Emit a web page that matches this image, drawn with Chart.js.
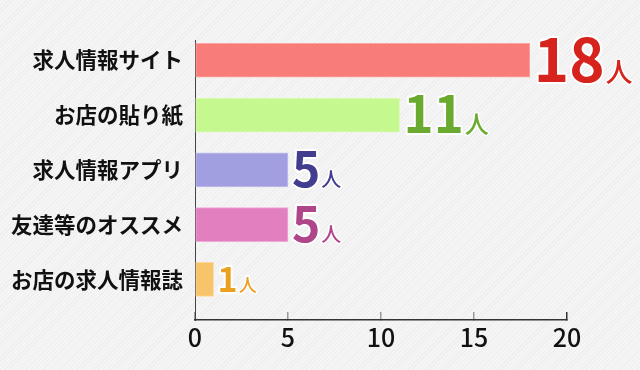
<!DOCTYPE html>
<html lang="ja">
<head>
<meta charset="utf-8">
<script src="https://cdn.jsdelivr.net/npm/chart.js@4/dist/chart.umd.min.js"></script>
<style>
  html, body { margin: 0; padding: 0; }
  body {
    width: 640px;
    height: 370px;
    background: repeating-linear-gradient(-45deg, #f5f5f5 0 2px, #eeeeee 2px 3px);
  }
</style>
</head>
<body>
<canvas id="surveyChart" width="640" height="370"></canvas>
<script>
// data
const categories = ["求人情報サイト", "お店の貼り紙", "求人情報アプリ", "友達等のオススメ", "お店の求人情報誌"];
const counts = [18, 11, 5, 5, 1];
const xTicks = [0, 5, 10, 15, 20];
const unitLabel = "人";

// styles
const barColors = ["#f87c77", "#c6f890", "#a19fe0", "#e27fbf", "#f8c46b"];
const barEdges = ["#fba6a2", "#dcfbb8", "#c3c1ec", "#eeaad6", "#fbd9a0"];
const valueColors = ["#d6231d", "#6aaa2e", "#423d8e", "#b0468a", "#eca020"];
const numSizes = [60, 51, 48, 48, 34];
const unitSizes = [27, 24, 20, 20, 18];

const FONT = "'Noto Sans CJK JP', 'Noto Sans', sans-serif";

// value labels "18人" next to each bar
const valueLabels = {
  id: "valueLabels",
  afterDatasetsDraw(chart) {
    const ctx = chart.ctx;
    const meta = chart.getDatasetMeta(0);
    ctx.save();
    ctx.textBaseline = "alphabetic";
    ctx.textAlign = "left";
    ctx.lineJoin = "round";
    ctx.strokeStyle = "#ffffff";
    meta.data.forEach((bar, i) => {
      const num = String(counts[i]);
      const x = bar.x + 4;
      const base = bar.y + numSizes[i] * 0.36;

      ctx.font = "bold " + numSizes[i] + "px " + FONT;
      ctx.fillStyle = valueColors[i];
      ctx.lineWidth = 4;
      ctx.strokeText(num, x, base);
      ctx.fillText(num, x, base);
      const w = ctx.measureText(num).width;

      ctx.font = "500 " + unitSizes[i] + "px " + FONT;
      ctx.lineWidth = 3;
      ctx.strokeText(unitLabel, x + w + 1, base);
      ctx.fillText(unitLabel, x + w + 1, base);
    });
    ctx.restore();
  },
};

new Chart(document.getElementById("surveyChart"), {
  type: "bar",
  data: {
    datasets: [
      {
        data: counts.map((v, i) => ({ x: v, y: i })),
        backgroundColor: barColors,
        borderColor: barEdges,
        borderWidth: 1,
        borderSkipped: false,
        barThickness: 34,
      },
    ],
  },
  options: {
    indexAxis: "y",
    responsive: false,
    animation: false,
    layout: { padding: { top: 40, right: 73, left: 0, bottom: 0 } },
    plugins: { legend: { display: false }, tooltip: { enabled: false } },
    scales: {
      y: {
        type: "linear",
        reverse: true,
        offset: false,
        min: -0.37,
        max: 4.74,
        afterBuildTicks: (scale) => {
          scale.ticks = categories.map((c, i) => ({ value: i }));
        },
        afterFit: (scale) => {
          scale.width = 195;
        },
        grid: { drawOnChartArea: false, drawTicks: false },
        border: { display: true, color: "#444444", width: 1 },
        ticks: {
          padding: 12,
          color: "#111111",
          font: { family: FONT, size: 21.5, weight: "bold" },
          callback: (v) => categories[v],
        },
      },
      x: {
        type: "linear",
        min: xTicks[0],
        max: xTicks[xTicks.length - 1],
        afterBuildTicks: (scale) => {
          scale.ticks = xTicks.map((v) => ({ value: v }));
        },
        afterFit: (scale) => {
          scale.height = 50;
        },
        grid: {
          drawOnChartArea: false,
          drawTicks: true,
          tickLength: -8,
          lineWidth: 1.5,
          color: (c) => (c.index === xTicks.length - 1 ? "#333333" : "#9a9a9a"),
        },
        border: { display: true, color: "#333333", width: 1.5 },
        ticks: {
          padding: 10,
          maxRotation: 0,
          color: "#111111",
          font: { family: FONT, size: 25, weight: "500" },
        },
      },
    },
  },
  plugins: [valueLabels],
});
</script>
</body>
</html>
